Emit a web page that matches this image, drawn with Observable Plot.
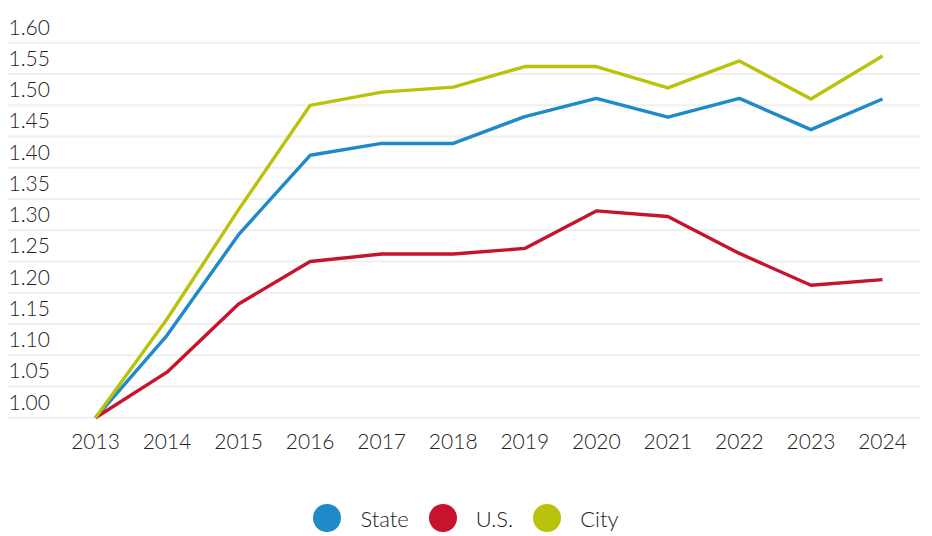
<!DOCTYPE html>
<html><head><meta charset="utf-8">
<script src="https://cdn.jsdelivr.net/npm/d3@7"></script>
<script src="https://cdn.jsdelivr.net/npm/@observablehq/plot@0.6"></script>
<style>
body{margin:0;background:#fff;font-family:Lato,"Noto Sans",sans-serif;font-weight:300;color:#222;}
#chart svg{display:block;}
#legend{display:flex;justify-content:center;align-items:center;height:28px;margin-top:34px;font-size:22px;font-weight:300;color:#222;}
.item{display:flex;align-items:center;margin:0 10px;}
.sw{width:28px;height:28px;border-radius:50%;margin-right:19px;}
</style></head><body>
<div id="chart"></div>
<div id="legend"></div>
<script>
const years = [2013,2014,2015,2016,2017,2018,2019,2020,2021,2022,2023,2024];
const state = [1.00,1.132,1.293,1.42,1.439,1.439,1.482,1.511,1.481,1.511,1.461,1.51];
const us    = [1.00,1.073,1.182,1.25,1.262,1.262,1.271,1.331,1.322,1.263,1.212,1.221];
const city  = [1.00,1.158,1.333,1.50,1.521,1.529,1.562,1.562,1.528,1.571,1.51,1.579];
const seriesNames = ["State","U.S.","City"];
const seriesColors = ["#1f8ac8","#c8132d","#b9c30c"];
const yTicks = [1.00,1.05,1.10,1.15,1.20,1.25,1.30,1.35,1.40,1.45,1.50,1.55,1.60];

const seriesValues = [state, us, city];
const rows = [];
seriesNames.forEach((name, i) => years.forEach((yr, j) => rows.push({series: name, year: yr, value: seriesValues[i][j]})));

const plot = Plot.plot({
  width: 932,
  height: 470,
  marginTop: 42.3,
  marginBottom: 52.7,
  marginLeft: 8,
  marginRight: 12,
  insetLeft: 87,
  insetRight: 38,
  style: {fontFamily: "Lato, 'Noto Sans', sans-serif", fontSize: "21px", fontWeight: 300, color: "#222", background: "#fff"},
  x: {domain: [2013, 2024], label: null},
  y: {domain: [1.0, 1.6], label: null},
  color: {domain: seriesNames, range: seriesColors},
  marks: [
    Plot.gridY(yTicks, {stroke: "#efefef", strokeOpacity: 1, strokeWidth: 2}),
    Plot.axisY(yTicks, {tickSize: 0, tickPadding: 0, textAnchor: "start", dy: -15, tickFormat: d => d.toFixed(2), label: null, fill: "#222"}),
    Plot.axisX(years, {tickSize: 0, tickPadding: 16, tickFormat: d => String(d), label: null, fill: "#222"}),
    Plot.line(rows, {x: "year", y: "value", z: "series", stroke: "series", strokeWidth: 3.4, strokeLinecap: "butt"})
  ]
});
document.getElementById("chart").appendChild(plot);

const legend = document.getElementById("legend");
seriesNames.forEach((n, i) => {
  const it = document.createElement("div");
  it.className = "item";
  const sw = document.createElement("div");
  sw.className = "sw";
  sw.style.background = seriesColors[i];
  const t = document.createElement("span");
  t.textContent = n;
  it.appendChild(sw); it.appendChild(t);
  legend.appendChild(it);
});
</script>
</body></html>
